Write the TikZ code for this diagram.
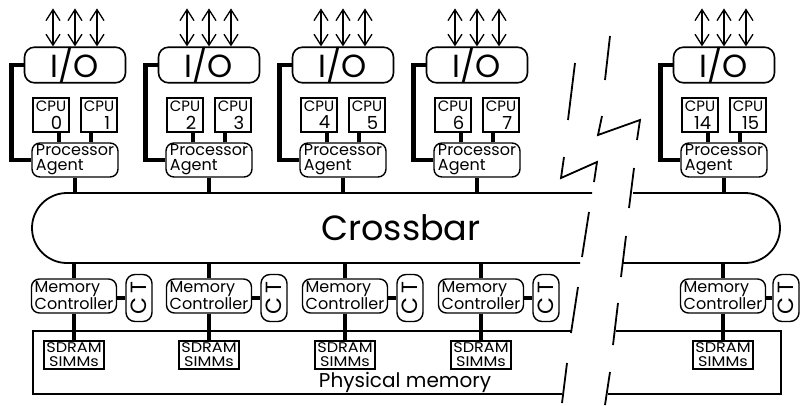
\documentclass[tikz,border=0pt]{standalone}
\usepackage{fontspec}
\setmainfont{Poppins}
\usetikzlibrary{arrows.meta,positioning,calc}

\newcommand{\cpu}[1]{CPU\\[4pt]{\fontsize{18}{14}\selectfont #1}\hspace*{4pt}}

\begin{document}
\begin{tikzpicture}[x=1pt, y=-1pt,
    iobox/.style={draw, line width=1.6pt, rounded corners=10pt, minimum width=101pt, minimum height=30pt, inner sep=0pt, font=\fontsize{32}{32}\selectfont},
    cpubox/.style={draw, line width=1.4pt, minimum width=36pt, minimum height=34pt, inner sep=0pt, align=right, font=\fontsize{15}{13}\selectfont},
    agent/.style={draw, line width=1.4pt, rounded corners=8pt, minimum width=86pt, minimum height=34pt, inner sep=0pt, align=left, font=\fontsize{16}{15}\selectfont},
    memctl/.style={agent, minimum width=85pt},
    ctbox/.style={draw, line width=1.4pt, rounded corners=9pt, minimum width=26pt, minimum height=47pt, inner sep=0pt, font=\fontsize{22}{22}\selectfont},
    simm/.style={draw, line width=1.4pt, minimum width=60pt, minimum height=28pt, inner sep=0pt, align=center, font=\fontsize{14}{14}\selectfont\addfontfeature{FakeStretch=1.15}},
    bus/.style={line width=4.5pt},
    dbl/.style={{Straight Barb[length=11pt,width=14pt]}-{Straight Barb[length=11pt,width=14pt]}, line width=1.3pt},
    outline/.style={line width=1.8pt},
    breakline/.style={line width=1.8pt},
]
\useasboundingbox (0,0) rectangle (801,405);

% I/O boxes
\node[iobox] (io1) at (75, 65) {I/O};
\node[iobox] (io2) at (209, 65) {I/O};
\node[iobox] (io3) at (343, 65) {I/O};
\node[iobox] (io4) at (477, 65) {I/O};
\node[iobox] (io5) at (724, 65) {I/O};

% I/O links
\foreach \n in {1,...,5} {
  \draw[dbl] ([xshift=-22pt]io\n.north) -- ++(0,-38);
  \draw[dbl] (io\n.north) -- ++(0,-38);
  \draw[dbl] ([xshift=22pt]io\n.north) -- ++(0,-38);
}

% CPUs
\node[cpubox] (cpu0) at (51, 115) {\cpu{0}};
\node[cpubox] (cpu1) at (99, 115) {\cpu{1}};
\node[cpubox] (cpu2) at (185, 115) {\cpu{2}};
\node[cpubox] (cpu3) at (233, 115) {\cpu{3}};
\node[cpubox] (cpu4) at (319, 115) {\cpu{4}};
\node[cpubox] (cpu5) at (367, 115) {\cpu{5}};
\node[cpubox] (cpu6) at (453, 115) {\cpu{6}};
\node[cpubox] (cpu7) at (501, 115) {\cpu{7}};
\node[cpubox] (cpu14) at (700, 115) {\cpu{14}};
\node[cpubox] (cpu15) at (748, 115) {\cpu{15}};

% Processor agents
\node[agent] (pa1) at (75, 160) {Processor\\Agent};
\node[agent] (pa2) at (209, 160) {Processor\\Agent};
\node[agent] (pa3) at (343, 160) {Processor\\Agent};
\node[agent] (pa4) at (477, 160) {Processor\\Agent};
\node[agent] (pa5) at (724, 160) {Processor\\Agent};

% Crossbar
\coordinate (xbtop) at (0, 193);
\coordinate (xbbot) at (0, 263);
\draw[outline, rounded corners=35pt] (592,193) -- (32,193) -- (32,263) -- (580,263);
\draw[outline, rounded corners=35pt] (633,193) -- (780,193) -- (780,263) -- (623,263);
\node[font=\fontsize{35}{35}\selectfont] (xbar) at (401, 228) {Crossbar};

% Memory controllers
\node[memctl] (mc1) at (74, 296) {Memory\\Controller};
\node[memctl] (mc2) at (209, 296) {Memory\\Controller};
\node[memctl] (mc3) at (345, 296) {Memory\\Controller};
\node[memctl] (mc4) at (481, 296) {Memory\\Controller};
\node[memctl] (mc5) at (723, 296) {Memory\\Controller};

\node[ctbox] (ct1) at (139, 298) {\rotatebox{90}{C\,T}};
\node[ctbox] (ct2) at (274, 298) {\rotatebox{90}{C\,T}};
\node[ctbox] (ct3) at (410, 298) {\rotatebox{90}{C\,T}};
\node[ctbox] (ct4) at (546, 298) {\rotatebox{90}{C\,T}};
\node[ctbox] (ct5) at (786, 298) {\rotatebox{90}{C\,T}};

% Physical memory
\draw[outline] (571,331) -- (33,331) -- (33,394) -- (562,394);
\draw[outline] (616,331) -- (781,331) -- (781,394) -- (608,394);
\node[simm] (sd1) at (74, 355) {SDRAM\\SIMMs};
\node[simm] (sd2) at (209, 355) {SDRAM\\SIMMs};
\node[simm] (sd3) at (345, 355) {SDRAM\\SIMMs};
\node[simm] (sd4) at (481, 355) {SDRAM\\SIMMs};
\node[simm] (sd5) at (723, 355) {SDRAM\\SIMMs};
\node[anchor=base, font=\fontsize{20}{20}\selectfont] (phys) at (405, 387) {Physical memory};

% Buses
\foreach \n/\a/\b in {1/cpu0/cpu1, 2/cpu2/cpu3, 3/cpu4/cpu5, 4/cpu6/cpu7, 5/cpu14/cpu15} {
  \draw[bus] (io\n.west) -- ++(-12,0) |- (pa\n.west);
  \draw[bus] ([xshift=8pt]\a.south) -- ([xshift=8pt]\a.south |- pa\n.north);
  \draw[bus] ([xshift=-8pt]\b.south) -- ([xshift=-8pt]\b.south |- pa\n.north);
  \draw[bus] (pa\n.south) -- (pa\n.south |- xbtop);
  \draw[bus] (mc\n.north |- xbbot) -- (mc\n.north);
  \draw[bus] (mc\n.east |- ct\n.west) -- (ct\n.west);
  \draw[bus] (mc\n.south) -- (sd\n.north);
}

% Break marks
\draw[breakline] (575,63) -- (568,120);
\draw[breakline] (564,157) -- (561,178) -- (597,162) -- (594,182);
\draw[breakline] (589,212) -- (582,257);
\draw[breakline] (578,287) -- (571,333);
\draw[breakline] (567,363) -- (562,403);
\draw[breakline] (610,36) -- (605,80);
\draw[breakline] (602,116) -- (598,135) -- (640,120) -- (637,140);
\draw[breakline] (634,168) -- (629,208);
\draw[breakline] (626,236) -- (621,277);
\draw[breakline] (618,303) -- (613,345);
\draw[breakline] (610,372) -- (605,405);
\end{tikzpicture}
\end{document}
